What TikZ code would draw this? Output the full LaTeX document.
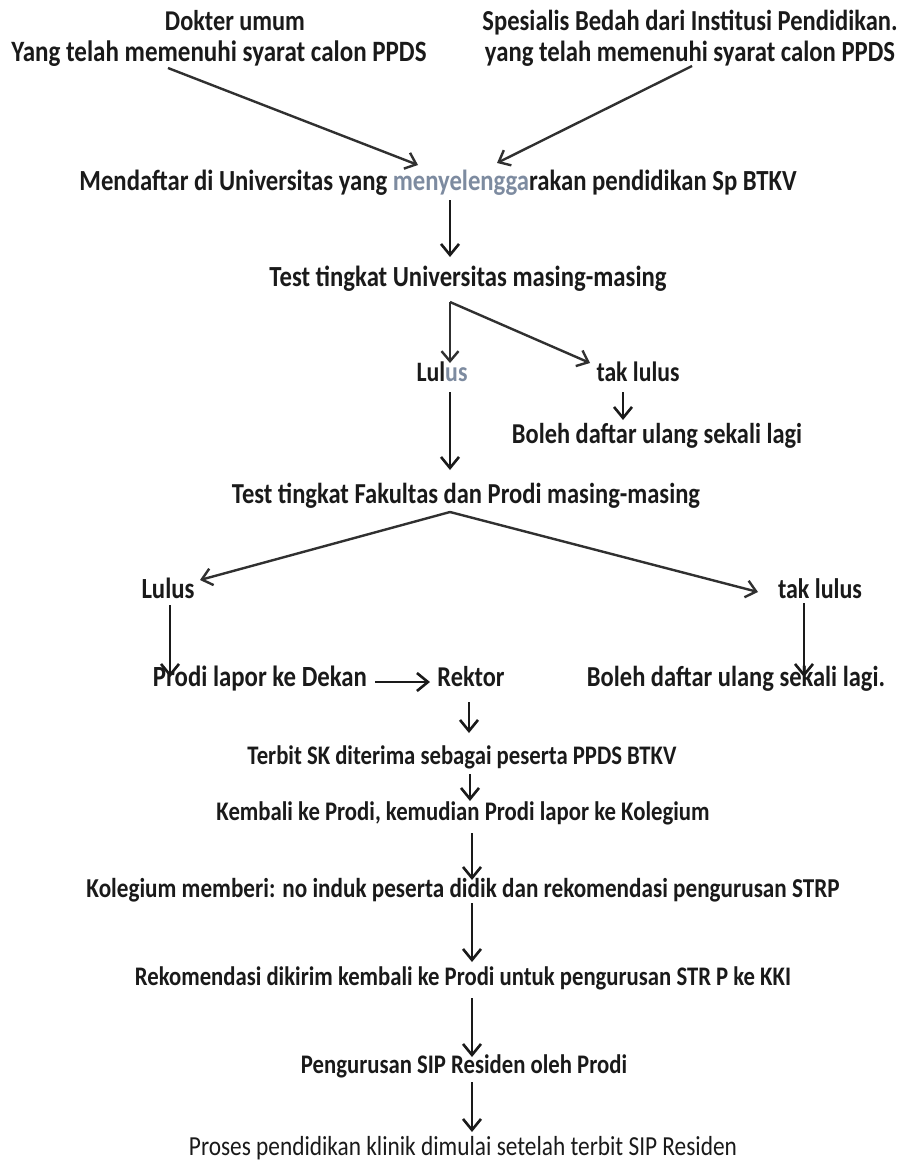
\documentclass[tikz,border=0pt]{standalone}
\usepackage{fontspec}
\setmainfont{Carlito}
\usepackage{graphicx}
\usetikzlibrary{arrows.meta}
\definecolor{ink}{HTML}{1A1A1A}
\definecolor{lineg}{HTML}{303030}
\definecolor{selgray}{HTML}{7D8BA0}
\newcommand{\fitt}[2]{\scalebox{1}[1.18]{\resizebox{#1pt}{!}{\bfseries\vphantom{Tg}#2}}}
\newcommand{\fitr}[2]{\scalebox{1}[1.18]{\resizebox{#1pt}{!}{\vphantom{Tg}#2}}}
\begin{document}
\begin{tikzpicture}[x=1pt,y=-1pt,
  lbl/.style={inner sep=0pt, anchor=center, text=ink},
  arr/.style={draw=ink, line width=2.8pt, -{Straight Barb[length=11pt,width=18pt,line width=2.6pt]}},
  darr/.style={draw=lineg, line width=2.4pt, -{Straight Barb[length=10pt,width=17pt,line width=2.4pt]}}]
\useasboundingbox[fill=white] (0,0) rectangle (899,1162);

% text nodes
\node[lbl] (d1) at (235,23) {\fitt{140}{Dokter umum}};
\node[lbl] (d2) at (219,54) {\fitt{415}{Yang telah memenuhi syarat calon PPDS}};
\node[lbl] (s1) at (690,23) {\fitt{415}{Spesialis Bedah dari Institusi Pendidikan.}};
\node[lbl] (s2) at (690,54) {\fitt{410}{yang telah memenuhi syarat calon PPDS}};
\node[lbl] (m) at (438,183) {\fitt{717}{Mendaftar di Universitas yang {\color{selgray}menyelengga}rakan pendidikan Sp BTKV}};
\node[lbl] (tu) at (468,279) {\fitt{397}{Test tingkat Universitas masing-masing}};
\node[lbl] (l1) at (442,374) {\fitt{51}{Lul{\color{selgray}us}}};
\node[lbl] (t1) at (638,374) {\fitt{83}{tak lulus}};
\node[lbl] (b1) at (657,436) {\fitt{290}{Boleh daftar ulang sekali lagi}};
\node[lbl] (tf) at (466,496) {\fitt{468}{Test tingkat Fakultas dan Prodi masing-masing}};
\node[lbl] (l2) at (168,591) {\fitt{53}{Lulus}};
\node[lbl] (t2) at (820,591) {\fitt{84}{tak lulus}};
\node[lbl] (pr) at (260,679) {\fitt{214}{Prodi lapor ke Dekan}};
\node[lbl] (rk) at (471,679) {\fitt{67}{Rektor}};
\node[lbl] (b2) at (736,679) {\fitt{298}{Boleh daftar ulang sekali lagi.}};
\node[lbl] (sk) at (462,757) {\fitt{429}{Terbit SK diterima sebagai peserta PPDS BTKV}};
\node[lbl] (kb) at (463,813) {\fitt{493}{Kembali ke Prodi, kemudian Prodi lapor ke Kolegium}};
\node[lbl] (kg) at (463,890) {\fitt{753}{Kolegium memberi: no induk peserta didik dan rekomendasi pengurusan STRP}};
\node[lbl] (rm) at (463,978) {\fitt{656}{Rekomendasi dikirim kembali ke Prodi untuk pengurusan STR P ke KKI}};
\node[lbl] (ps) at (464,1066) {\fitt{326}{Pengurusan SIP Residen oleh Prodi}};
\node[lbl] (pd) at (463,1148) {\fitr{548}{Proses pendidikan klinik dimulai setelah terbit SIP Residen}};

% connector end points
\coordinate (d2o) at (168,68);
\coordinate (mi1) at (418,165);
\coordinate (s2o) at (692,66);
\coordinate (mi2) at (497,163);
\coordinate (mo) at (450,200);
\coordinate (tui) at (450,257);
\coordinate (br1) at (450,302);
\coordinate (l1i) at (450,363);
\coordinate (t1i) at (590,363);
\coordinate (t1o) at (623,392);
\coordinate (b1i) at (623,420);
\coordinate (l1o) at (450,392);
\coordinate (tfi) at (450,470);
\coordinate (br2) at (450,512);
\coordinate (l2i) at (200,580);
\coordinate (t2i) at (758,592);
\coordinate (l2o) at (170,605);
\coordinate (pri) at (170,677);
\coordinate (pro) at (375,682);
\coordinate (rki) at (430,682);
\coordinate (t2o) at (804,603);
\coordinate (b2i) at (804,677);
\coordinate (rko) at (469,702);
\coordinate (ski) at (469,733);
\coordinate (sko) at (470,774);
\coordinate (kbi) at (470,801);
\coordinate (kbo) at (472,833);
\coordinate (kgi) at (472,880);
\coordinate (kgo) at (472,903);
\coordinate (rmi) at (472,962);
\coordinate (rmo) at (472,998);
\coordinate (psi) at (472,1057);
\coordinate (pso) at (472,1082);
\coordinate (pdi) at (472,1132);

% connectors
\draw[darr] (d2o) -- (mi1);
\draw[darr] (s2o) -- (mi2);
\draw[arr] (mo) -- (tui);
\draw[darr] (br1) -- (l1i);
\draw[darr] (br1) -- (t1i);
\draw[arr] (t1o) -- (b1i);
\draw[arr] (l1o) -- (tfi);
\draw[darr] (br2) -- (l2i);
\draw[darr] (br2) -- (t2i);
\draw[arr] (l2o) -- (pri);
\draw[arr] (pro) -- (rki);
\draw[arr] (t2o) -- (b2i);
\draw[arr] (rko) -- (ski);
\draw[arr] (sko) -- (kbi);
\draw[arr] (kbo) -- (kgi);
\draw[arr] (kgo) -- (rmi);
\draw[arr] (rmo) -- (psi);
\draw[arr] (pso) -- (pdi);
\end{tikzpicture}
\end{document}
